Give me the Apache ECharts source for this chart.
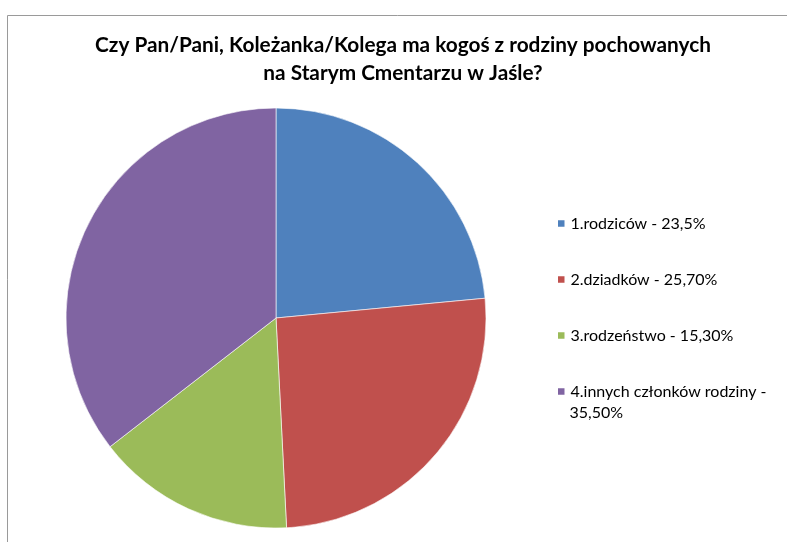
<!DOCTYPE html>
<html>
<head>
<meta charset="utf-8">
<script src="https://cdn.jsdelivr.net/npm/echarts@6/dist/echarts.min.js"></script>
<style>
  html, body { margin: 0; padding: 0; background: #fff; }
  #chart { width: 787px; height: 542px; }
</style>
</head>
<body>
<div id="chart"></div>
<script>
const title = "Czy Pan/Pani, Koleżanka/Kolega ma kogoś z rodziny pochowanych\nna Starym Cmentarzu w Jaśle?";
const categories = ["1.rodziców - 23,5%", "2.dziadków - 25,70%", "3.rodzeństwo - 15,30%", "4.innych członków rodziny - 35,50%"];
const values = [23.5, 25.7, 15.3, 35.5];
const colors = ["#4F81BD", "#C0504D", "#9BBB59", "#8064A2"];

// the long legend entry wraps after " -" like in the original
const wrapped = categories[3];
const head = (name) => (name === wrapped ? name.slice(0, name.lastIndexOf(" - ") + 2) : name);
const tail = (name) => name.slice(name.lastIndexOf(" - ") + 3);

const legendText = {
  fontFamily: "Lato",
  fontSize: 16,
  lineHeight: 20,
  color: "#000",
};

const chart = echarts.init(document.getElementById("chart"), null, { renderer: "canvas" });

chart.setOption({
  animation: false,
  color: colors,
  title: {
    text: title,
    left: 403,
    top: 31,
    padding: 0,
    textAlign: "center",
    textStyle: {
      fontFamily: "Lato",
      fontWeight: "bold",
      fontSize: 20.8,
      lineHeight: 28,
      color: "#000",
    },
  },
  legend: [
    {
      orient: "vertical",
      left: 556,
      top: 213.5,
      padding: 0,
      itemWidth: 8.5,
      itemHeight: 8.5,
      itemGap: 36,
      icon: "rect",
      data: categories,
      formatter: head,
      textStyle: legendText,
    },
    {
      orient: "vertical",
      left: 556,
      top: 403,
      padding: 0,
      itemWidth: 8.5,
      itemHeight: 8.5,
      icon: "none",
      data: [wrapped],
      formatter: tail,
      textStyle: legendText,
    },
  ],
  graphic: [
    {
      type: "polyline",
      silent: true,
      shape: { points: [[7.5, 560], [7.5, 15.5], [800, 15.5]] },
      style: { stroke: "#9a9a9a", lineWidth: 1, fill: null },
    },
  ],
  series: [
    {
      type: "pie",
      center: [276, 318],
      radius: 210,
      startAngle: 90,
      clockwise: true,
      label: { show: false },
      labelLine: { show: false },
      emphasis: { disabled: true },
      itemStyle: { borderColor: "#ffffff", borderWidth: 0.6 },
      data: categories.map((name, i) => ({ name, value: values[i] })),
    },
  ],
});
</script>
</body>
</html>
